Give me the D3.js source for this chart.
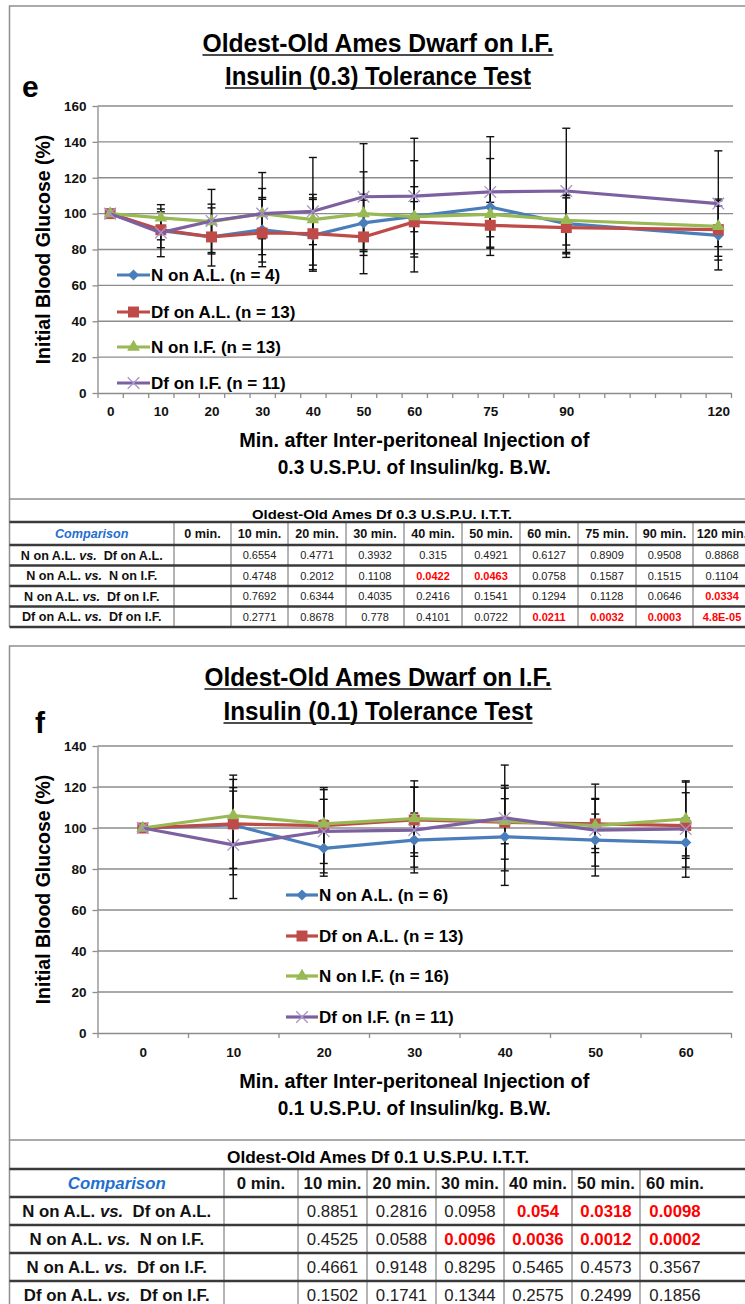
<!DOCTYPE html>
<html>
<head>
<meta charset="utf-8">
<script src="https://cdn.jsdelivr.net/npm/d3@7"></script>
<style>
  body { margin: 0; background: #fff; }
  svg { display: block; }
</style>
</head>
<body>
<svg id="fig" width="745" height="1304"></svg>
<script>
// ---- panel e : 0.3 U.S.P.U. insulin ----
const timesE = [0, 10, 20, 30, 40, 50, 60, 75, 90, 120];
const namesE = ["N on A.L. (n = 4)", "Df on A.L. (n = 13)", "N on I.F. (n = 13)", "Df on I.F. (n = 11)"];
const nalE     = [100, 90.5, 87, 91, 87.9, 94.8, 98.5, 103.7, 94.4, 87.9];
const nalErrE  = [0, 14.5, 16.2, 18, 20, 16, 31, 27, 16, 19.3];
const dfalE    = [100, 91, 87, 89.2, 88.8, 87, 95.4, 93.5, 92.2, 91.1];
const dfalErrE = [0, 10, 9.5, 18.8, 20, 20.5, 19.6, 12.8, 16.6, 17];
const nifE     = [100, 97.6, 95.5, 100, 96.7, 100, 98.3, 99.6, 96.3, 92.9];
const nifErrE  = [0, 5, 9.8, 14, 14, 23.3, 8.4, 12.5, 13.8, 11.3];
const dfifE    = [100, 89.4, 95.9, 100, 101.3, 109.4, 109.8, 112.1, 112.6, 105.6];
const dfifErrE = [0, 4, 17.6, 22.9, 30, 29.6, 32.2, 30.8, 35, 29.4];
const yTicksE = [0, 20, 40, 60, 80, 100, 120, 140, 160];
const titleE = ["Oldest-Old Ames Dwarf on I.F.", "Insulin (0.3) Tolerance Test"];
const xTitleE = ["Min. after Inter-peritoneal Injection of", "0.3 U.S.P.U. of Insulin/kg. B.W."];

// ---- panel f : 0.1 U.S.P.U. insulin ----
const timesF = [0, 10, 20, 30, 40, 50, 60];
const namesF = ["N on A.L. (n = 6)", "Df on A.L. (n = 13)", "N on I.F. (n = 16)", "Df on I.F. (n = 11)"];
const nalF     = [100, 101.5, 90.1, 94.1, 95.7, 94.1, 92.9];
const nalErrF  = [0, 24.3, 13.6, 13.2, 23.7, 12.7, 12];
const dfalF    = [100, 102, 101.2, 103.9, 102.8, 102, 101.2];
const dfalErrF = [0, 21.7, 18.5, 16, 18, 12, 16];
const nifF     = [100, 106.1, 102, 104.6, 103.3, 101.2, 104.4];
const nifErrF  = [0, 13.6, 12, 18.4, 11, 13.2, 18];
const dfifF    = [100, 91.8, 98.4, 99, 104.9, 99, 99.5];
const dfifErrF = [0, 26.2, 20.3, 20.9, 25.8, 22.4, 23.5];
const yTicksF = [0, 20, 40, 60, 80, 100, 120, 140];
const titleF = ["Oldest-Old Ames Dwarf on I.F.", "Insulin (0.1) Tolerance Test"];
const xTitleF = ["Min. after Inter-peritoneal Injection of", "0.1 U.S.P.U. of Insulin/kg. B.W."];

// ---- p-value tables ----
const comparisons = ["N on A.L. vs. Df on A.L.", "N on A.L. vs. N on I.F.", "N on A.L. vs. Df on I.F.", "Df on A.L. vs. Df on I.F."];
const tableTitleE = "Oldest-Old Ames Df 0.3 U.S.P.U. I.T.T.";
const headersE = ["Comparison", "0 min.", "10 min.", "20 min.", "30 min.", "40 min.", "50 min.", "60 min.", "75 min.", "90 min.", "120 min."];
const pRowsE = [
  ["", "0.6554", "0.4771", "0.3932", "0.315", "0.4921", "0.6127", "0.8909", "0.9508", "0.8868"],
  ["", "0.4748", "0.2012", "0.1108", "0.0422", "0.0463", "0.0758", "0.1587", "0.1515", "0.1104"],
  ["", "0.7692", "0.6344", "0.4035", "0.2416", "0.1541", "0.1294", "0.1128", "0.0646", "0.0334"],
  ["", "0.2771", "0.8678", "0.778", "0.4101", "0.0722", "0.0211", "0.0032", "0.0003", "4.8E-05"]
];
const tableTitleF = "Oldest-Old Ames Df 0.1 U.S.P.U. I.T.T.";
const headersF = ["Comparison", "0 min.", "10 min.", "20 min.", "30 min.", "40 min.", "50 min.", "60 min."];
const pRowsF = [
  ["", "0.8851", "0.2816", "0.0958", "0.054", "0.0318", "0.0098"],
  ["", "0.4525", "0.0588", "0.0096", "0.0036", "0.0012", "0.0002"],
  ["", "0.4661", "0.9148", "0.8295", "0.5465", "0.4573", "0.3567"],
  ["", "0.1502", "0.1741", "0.1344", "0.2575", "0.2499", "0.1856"]
];
const sigCutoff = 0.055;

const FONT = "'Liberation Sans',Arial,sans-serif";
const styles = [
  {color: "#4A7EBB", marker: "diamond"},
  {color: "#BE4B48", marker: "square"},
  {color: "#98B954", marker: "triangle"},
  {color: "#7D60A0", marker: "x", markColor: "#A795C9"}
];

const svg = d3.select("#fig");
svg.append("rect").attr("width", 745).attr("height", 1304).attr("fill", "#fff");

function markerPath(type) {
  if (type === "diamond") return d3.symbol(d3.symbolSquare, 62)();
  if (type === "square") return d3.symbol(d3.symbolSquare, 120)();
  if (type === "triangle") return d3.symbol(d3.symbolTriangle, 70)();
  return d3.symbol(d3.symbolX, 90)();
}

function addMarker(sel, st) {
  const p = sel.append("path").attr("d", markerPath(st.marker));
  if (st.marker === "x") {
    p.attr("fill", "none").attr("stroke", st.markColor).attr("stroke-width", 1.3);
  } else {
    p.attr("fill", st.color);
  }
  if (st.marker === "diamond") p.attr("transform", "rotate(45)");
  return p;
}

function drawChart(cfg) {
  const g = svg.append("g");
  const plotL = 97.5, plotR = 731;

  g.append("rect")
    .attr("x", 9.5).attr("y", cfg.frameTop)
    .attr("width", 760).attr("height", cfg.frameBottom - cfg.frameTop)
    .attr("fill", "none").attr("stroke", "#8f8f8f").attr("stroke-width", 1.5);

  // titles, underlined
  cfg.title.forEach((t, i) => {
    g.append("text")
      .attr("x", 378).attr("y", cfg.titleY[i])
      .attr("text-anchor", "middle")
      .attr("font-family", FONT).attr("font-weight", "bold").attr("font-size", 26)
      .attr("textLength", cfg.titleW[i]).attr("lengthAdjust", "spacingAndGlyphs")
      .text(t);
    g.append("line")
      .attr("x1", 378 - cfg.titleW[i] / 2).attr("x2", 378 + cfg.titleW[i] / 2)
      .attr("y1", cfg.titleY[i] + 3).attr("y2", cfg.titleY[i] + 3)
      .attr("stroke", "#111").attr("stroke-width", 1.6);
  });

  g.append("text")
    .attr("x", cfg.letterX).attr("y", cfg.letterY)
    .attr("font-family", FONT).attr("font-weight", "bold").attr("font-size", 30)
    .text(cfg.letter);

  const x = d3.scaleLinear().domain(cfg.xDomain).range([plotL, plotR]);
  const y = d3.scaleLinear().domain([0, cfg.yMax]).range([cfg.y0, cfg.yTop]);

  // horizontal gridlines
  g.append("g").selectAll("line").data(cfg.yTicks.filter(d => d > 0)).join("line")
    .attr("x1", plotL).attr("x2", plotR + 2)
    .attr("y1", d => y(d)).attr("y2", d => y(d))
    .attr("stroke", "#8c8c8c").attr("stroke-width", 1.3);

  // y axis
  const yAxis = g.append("g")
    .attr("transform", `translate(${plotL},0)`)
    .call(d3.axisLeft(y).tickValues(cfg.yTicks).tickSize(5).tickPadding(6).tickSizeOuter(0));
  yAxis.select(".domain").attr("stroke", "#8c8c8c").attr("stroke-width", 1.3);
  yAxis.selectAll(".tick line").attr("stroke", "#8c8c8c").attr("stroke-width", 1.3);
  yAxis.selectAll(".tick text")
    .attr("font-family", FONT).attr("font-weight", "bold").attr("font-size", 13.5).attr("fill", "#111");

  // x axis: tick marks between categories, labels at sampling times
  const xAxis = g.append("g")
    .attr("transform", `translate(0,${cfg.y0})`)
    .call(d3.axisBottom(x).tickValues(cfg.xTicks).tickSize(5).tickFormat("").tickSizeOuter(0));
  xAxis.select(".domain").attr("stroke", "#8c8c8c").attr("stroke-width", 1.3);
  xAxis.selectAll(".tick line").attr("stroke", "#8c8c8c").attr("stroke-width", 1.3);

  const xLab = g.append("g")
    .attr("transform", `translate(0,${cfg.y0})`)
    .call(d3.axisBottom(x).tickValues(cfg.times).tickSize(0).tickPadding(cfg.xLabelPad));
  xLab.select(".domain").remove();
  xLab.selectAll(".tick text")
    .attr("font-family", FONT).attr("font-weight", "bold").attr("font-size", 13.5).attr("fill", "#111");

  // axis titles
  g.append("text")
    .attr("transform", `translate(${cfg.yTitleX},${(cfg.y0 + cfg.yTop) / 2}) rotate(-90)`)
    .attr("text-anchor", "middle")
    .attr("font-family", FONT).attr("font-weight", "bold").attr("font-size", 19.5)
    .text("Initial Blood Glucose (%)");
  cfg.xTitle.forEach((t, i) => {
    g.append("text")
      .attr("x", (plotL + plotR) / 2).attr("y", cfg.xTitleY[i])
      .attr("text-anchor", "middle")
      .attr("font-family", FONT).attr("font-weight", "bold").attr("font-size", 20)
      .attr("textLength", cfg.xTitleW[i]).attr("lengthAdjust", "spacingAndGlyphs")
      .text(t);
  });

  // error bars
  const capW = 4;
  const eb = g.append("g").attr("stroke", "#111").attr("stroke-width", 1.4);
  cfg.series.forEach(s => {
    s.mean.forEach((m, i) => {
      const e = s.err[i];
      if (!e) return;
      const cx = x(cfg.times[i]);
      eb.append("line").attr("x1", cx).attr("x2", cx).attr("y1", y(m - e)).attr("y2", y(m + e));
      eb.append("line").attr("x1", cx - capW).attr("x2", cx + capW).attr("y1", y(m - e)).attr("y2", y(m - e));
      eb.append("line").attr("x1", cx - capW).attr("x2", cx + capW).attr("y1", y(m + e)).attr("y2", y(m + e));
    });
  });

  // lines and markers
  const line = d3.line().x(d => x(d[0])).y(d => y(d[1]));
  cfg.series.forEach(s => {
    const pts = cfg.times.map((t, i) => [t, s.mean[i]]);
    g.append("path").datum(pts)
      .attr("d", line).attr("fill", "none")
      .attr("stroke", s.style.color).attr("stroke-width", 3.2).attr("stroke-linejoin", "round");
    g.append("g").selectAll("g").data(pts).join("g")
      .attr("transform", d => `translate(${x(d[0])},${y(d[1])})`)
      .each(function () { addMarker(d3.select(this), s.style); });
  });

  // legend
  cfg.series.forEach((s, i) => {
    const ly = cfg.legend.ys[i];
    const lg = g.append("g");
    lg.append("line")
      .attr("x1", cfg.legend.x0).attr("x2", cfg.legend.x1).attr("y1", ly).attr("y2", ly)
      .attr("stroke", s.style.color).attr("stroke-width", 3.2);
    const mg = lg.append("g").attr("transform", `translate(${(cfg.legend.x0 + cfg.legend.x1) / 2},${ly})`);
    addMarker(mg, s.style);
    lg.append("text")
      .attr("x", cfg.legend.x1 + 1).attr("y", ly).attr("dy", "0.36em")
      .attr("font-family", FONT).attr("font-weight", "bold").attr("font-size", 17)
      .text(s.name);
  });
}

function drawTable(cfg) {
  const g = svg.append("g");
  const cols = cfg.cols, rows = cfg.rows;
  const right = 760;

  g.append("text")
    .attr("x", cfg.titleX).attr("y", cfg.titleY)
    .attr("text-anchor", "middle")
    .attr("font-family", FONT).attr("font-weight", "bold").attr("font-size", cfg.titleSize)
    .attr("textLength", cfg.titleW).attr("lengthAdjust", "spacingAndGlyphs")
    .text(cfg.title);
  g.append("line").attr("x1", 9.5).attr("x2", 9.5).attr("y1", cfg.frameGap).attr("y2", rows[rows.length - 1])
    .attr("stroke", "#8f8f8f").attr("stroke-width", 1.5);

  // vertical rules
  g.append("g").selectAll("line").data(cols.slice(1)).join("line")
    .attr("x1", d => d).attr("x2", d => d)
    .attr("y1", rows[0]).attr("y2", rows[rows.length - 1])
    .attr("stroke", "#6a6a6a").attr("stroke-width", 1);
  // horizontal rules (double-style)
  g.append("g").selectAll("line").data(rows).join("line")
    .attr("x1", 9.5).attr("x2", right)
    .attr("y1", d => d).attr("y2", d => d)
    .attr("stroke", "#3a3a3a").attr("stroke-width", 2.4);

  const mid = i => (cols[i] + (cols[i + 1] !== undefined ? cols[i + 1] : cols[i] + cfg.lastW)) / 2;
  const rmid = j => (rows[j] + rows[j + 1]) / 2;

  cfg.headers.forEach((h, i) => {
    const t = g.append("text")
      .attr("x", mid(i)).attr("y", rmid(0)).attr("dy", "0.36em")
      .attr("text-anchor", "middle")
      .attr("font-family", FONT).attr("font-weight", "bold").attr("font-size", cfg.size)
      .attr("fill", "#111")
      .text(h);
    if (i === 0) t.attr("fill", "#1F6FD1").attr("font-style", "italic");
  });

  cfg.labels.forEach((lab, j) => {
    const parts = lab.split(" vs. ");
    const t = g.append("text")
      .attr("x", mid(0)).attr("y", rmid(j + 1)).attr("dy", "0.36em")
      .attr("text-anchor", "middle")
      .attr("font-family", FONT).attr("font-weight", "bold").attr("font-size", cfg.size)
      .attr("fill", "#111")
      .attr("xml:space", "preserve");
    t.append("tspan").text(parts[0] + " ");
    t.append("tspan").attr("font-style", "italic").text("vs.");
    t.append("tspan").text("  " + parts[1]);
  });

  cfg.values.forEach((row, j) => {
    row.forEach((v, i) => {
      if (v === "") return;
      const sig = +v < sigCutoff;
      g.append("text")
        .attr("x", mid(i + 1)).attr("y", rmid(j + 1)).attr("dy", "0.36em")
        .attr("text-anchor", "middle")
        .attr("font-family", FONT).attr("font-size", cfg.numSize)
        .attr("font-weight", sig ? "bold" : "normal")
        .attr("fill", sig ? "#FF0000" : "#222")
        .text(v);
    });
  });
}

const mkSeries = (names, means, errs) => names.map((n, i) => ({name: n, mean: means[i], err: errs[i], style: styles[i]}));

drawChart({
  frameTop: 6, frameBottom: 499,
  title: titleE, titleY: [52, 85], titleW: [351, 306],
  letter: "e", letterX: 22, letterY: 97,
  xDomain: [-2.5, 122.5], xTicks: d3.range(-2.5, 123, 5), times: timesE,
  yMax: 160, yTicks: yTicksE, y0: 393, yTop: 106,
  yTitleX: 50, xLabelPad: 13, xTitle: xTitleE, xTitleY: [447, 474], xTitleW: [350, 273],
  legend: {x0: 117, x1: 150, ys: [275, 312, 347, 383]},
  series: mkSeries(namesE, [nalE, dfalE, nifE, dfifE], [nalErrE, dfalErrE, nifErrE, dfifErrE])
});

drawTable({
  title: tableTitleE, titleX: 382, titleY: 519, titleSize: 13.5, titleW: 260, frameGap: 499,
  cols: [9.5, 174, 231, 288, 346, 404, 462, 520, 578, 636, 693], lastW: 58,
  rows: [522, 545, 565.5, 586, 606.5, 627],
  headers: headersE, labels: comparisons, values: pRowsE,
  size: 12.6, numSize: 11
});

drawChart({
  frameTop: 646, frameBottom: 1140,
  title: titleF, titleY: [686, 720], titleW: [347, 309],
  letter: "f", letterX: 35, letterY: 733,
  xDomain: [-5, 65], xTicks: d3.range(-5, 66, 10), times: timesF,
  yMax: 140, yTicks: yTicksF, y0: 1033, yTop: 746,
  yTitleX: 50, xLabelPad: 14, xTitle: xTitleF, xTitleY: [1088, 1115], xTitleW: [350, 273],
  legend: {x0: 286, x1: 318, ys: [895, 936, 976, 1017]},
  series: mkSeries(namesF, [nalF, dfalF, nifF, dfifF], [nalErrF, dfalErrF, nifErrF, dfifErrF])
});

drawTable({
  title: tableTitleF, titleX: 378, titleY: 1163, titleSize: 16.5, titleW: 302, frameGap: 1140,
  cols: [9.5, 224, 298, 367, 436, 504, 572, 640], lastW: 70,
  rows: [1169, 1197, 1225, 1253, 1281, 1309],
  headers: headersF, labels: comparisons, values: pRowsF,
  size: 16.8, numSize: 16.8
});
</script>
</body>
</html>
